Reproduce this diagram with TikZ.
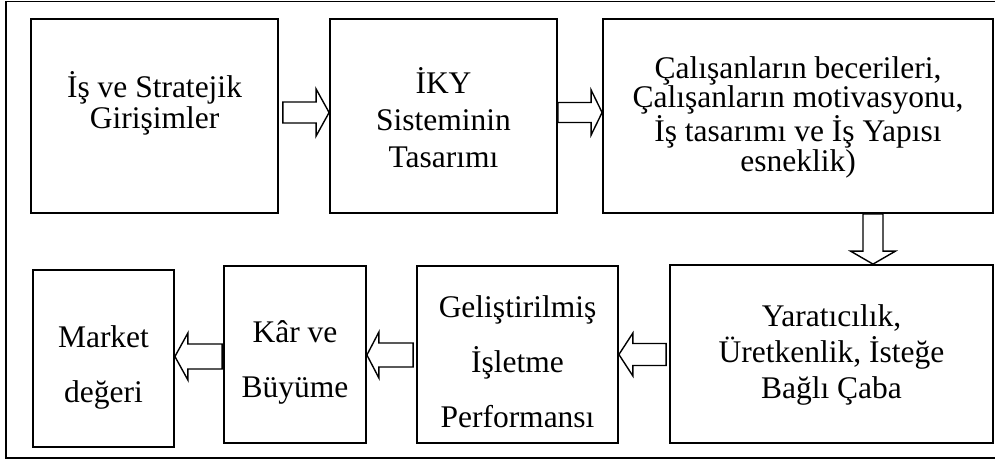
\documentclass[tikz,border=0pt]{standalone}
\usepackage{fontspec}
\setmainfont{Liberation Serif}
\usetikzlibrary{calc}

% Horizontal block arrow: tail, tip, shaft half-width, head half-width, head length (pt)
\newcommand{\HArrow}[5]{%
  \draw[blockarrow] let \p1=#1, \p2=#2, \n1={ifthenelse(\x2>\x1,1,-1)} in
    (\x1,{\y1+#3pt}) -- ({\x2-\n1*#5pt},{\y1+#3pt}) -- ({\x2-\n1*#5pt},{\y1+#4pt})
    -- (\x2,\y1) -- ({\x2-\n1*#5pt},{\y1-#4pt}) -- ({\x2-\n1*#5pt},{\y1-#3pt})
    -- (\x1,{\y1-#3pt}) -- cycle;}
% Vertical block arrow: same arguments
\newcommand{\VArrow}[5]{%
  \draw[blockarrow] let \p1=#1, \p2=#2, \n1={ifthenelse(\y2>\y1,1,-1)} in
    ({\x1+#3pt},\y1) -- ({\x1+#3pt},{\y2-\n1*#5pt}) -- ({\x1+#4pt},{\y2-\n1*#5pt})
    -- (\x1,\y2) -- ({\x1-#4pt},{\y2-\n1*#5pt}) -- ({\x1-#3pt},{\y2-\n1*#5pt})
    -- ({\x1-#3pt},\y1) -- cycle;}

\begin{document}
\begin{tikzpicture}[x=1pt,y=-1pt,
  box/.style={draw, line width=1.8pt, inner sep=0pt},
  txt/.style={align=center, inner sep=0pt},
  blockarrow/.style={draw, line width=1.4pt, fill=white, line join=miter}]
\useasboundingbox (0,0) rectangle (995,461);
\draw[line width=1.6pt] (6,1.5) rectangle (1002,458);

% top row
\node[box, minimum width=247pt, minimum height=194pt] (b1) at (154.5,116) {};
\node[box, minimum width=227pt, minimum height=194pt] (b2) at (443.5,116) {};
\node[box, minimum width=390pt, minimum height=194pt] (b3) at (798,116) {};
% bottom row
\node[box, minimum width=323pt, minimum height=178pt] (b4) at (831.5,354) {};
\node[box, minimum width=201pt, minimum height=177pt] (b5) at (517.5,354.5) {};
\node[box, minimum width=142pt, minimum height=177pt] (b6) at (295,354.5) {};
\node[box, minimum width=141pt, minimum height=177pt] (b7) at (103.5,358.5) {};

% labels
\node[txt, font=\fontsize{31.5}{31}\selectfont] (t1) at (154.5,103.5) {İş ve Stratejik\\Girişimler};
\node[txt, font=\fontsize{31.5}{37}\selectfont] (t2) at (443.5,117.5) {İKY\\Sisteminin\\Tasarımı};
\node[txt, font=\fontsize{31.5}{28}\selectfont] (t3) at (798,117) {Çalışanların becerileri,\\Çalışanların motivasyonu,\\İş tasarımı ve İş Yapısı\\esneklik)};
\node[txt, font=\fontsize{31.5}{36}\selectfont] (t4) at (831.5,354.5) {Yaratıcılık,\\Üretkenlik, İsteğe\\Bağlı Çaba};
\node[txt, font=\fontsize{31.5}{55}\selectfont] (t5) at (517.5,362) {Geliştirilmiş\\İşletme\\Performansı};
\node[txt, font=\fontsize{31.5}{55}\selectfont] (t6) at (295,362) {Kâr ve\\Büyüme};
\node[txt, font=\fontsize{31.5}{55}\selectfont] (t7) at (103.5,367.5) {Market\\değeri};

% block arrows between the stages
\HArrow{($(b1.east)+(4,-3.5)$)}{($(b2.west)+(0,-3.5)$)}{10.5}{23.5}{13}
\HArrow{($(b2.east)+(0,-3.5)$)}{($(b3.west)+(0,-3.5)$)}{10}{22.5}{11}
\VArrow{($(b3.south)+(75,0)$)}{($(b4.north)+(41.5,0)$)}{10}{22.5}{13}
\HArrow{($(b4.west)+(-3,0.5)$)}{(b5.east)}{11}{21.5}{14}
\HArrow{($(b5.west)+(-3,0.5)$)}{($(b6.east)+(0,0.5)$)}{12}{23}{12}
\HArrow{($(b6.west)+(-1,2)$)}{($(b7.east)+(0,-2)$)}{12.5}{23.5}{13}
\end{tikzpicture}
\end{document}
